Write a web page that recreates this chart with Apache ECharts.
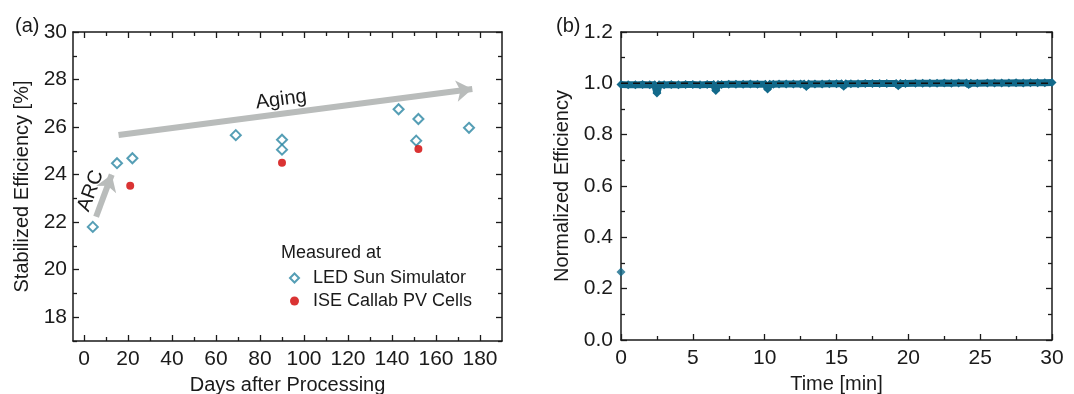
<!DOCTYPE html>
<html>
<head>
<meta charset="utf-8">
<script src="https://cdn.jsdelivr.net/npm/echarts@6/dist/echarts.min.js"></script>
<style>
  html, body { margin: 0; padding: 0; background: #fff; }
  #chart { width: 1074px; height: 394px; }
</style>
</head>
<body>
<div id="chart"></div>
<script>
// (a) stabilized efficiency vs days after processing
const ledDays = [4, 15, 22, 69, 90, 90, 143, 152, 151, 175];
const ledEff = [21.8, 24.48, 24.69, 25.66, 25.47, 25.05, 26.75, 26.34, 25.43, 25.97];
const iseDays = [21, 90, 152];
const iseEff = [23.53, 24.5, 25.08];
const daysTicks = [0, 20, 40, 60, 80, 100, 120, 140, 160, 180];
const daysMinor = [10, 30, 50, 70, 90, 110, 130, 150, 170];
const effTicks = [18, 20, 22, 24, 26, 28, 30];
const effMinor = [17, 19, 21, 23, 25, 27, 29];
// arrows: [start, end] in data units
const arcArrow = [[5.5, 22.23], [12.6, 24.0]];
const agingArrow = [[15.7, 25.67], [176.5, 27.6]];

// (b) normalized efficiency vs time
const firstTime = 0;
const firstValue = 0.265;
const timeMin = [0, 0.5, 1.0, 1.5, 2.0, 2.35, 2.5, 2.65, 3.0, 3.5, 4.0, 4.5, 5.0, 5.5, 6.0, 6.45, 6.6, 6.75, 7.0,
  7.5, 8.0, 8.5, 9.0, 9.5, 10.05, 10.2, 10.35, 10.6, 11.0, 11.5, 12.0, 12.5, 12.75, 12.9, 13.05, 13.5, 14.0,
  14.5, 15.0, 15.35, 15.5, 15.65, 16.0, 16.5, 17.0, 17.5, 18.0, 18.5, 19.15, 19.3, 19.45, 19.8, 20.5, 21.0,
  21.5, 22.0, 22.5, 23.0, 23.5, 24.05, 24.2, 24.35, 24.8, 25.5, 26.0, 26.5, 27.0, 27.5, 28.0, 28.5, 29.0,
  29.5, 30.0];
const normEff = [0.995, 0.994, 0.994, 0.995, 0.994, 0.994, 0.962, 0.994, 0.994, 0.995, 0.994, 0.995, 0.995,
  0.994, 0.995, 0.995, 0.972, 0.995, 0.995, 0.996, 0.996, 0.996, 0.997, 0.996, 0.996, 0.978, 0.996, 0.996,
  0.997, 0.997, 0.997, 0.997, 0.997, 0.988, 0.997, 0.997, 0.997, 0.998, 0.998, 0.998, 0.989, 0.998, 0.998,
  0.998, 0.999, 0.999, 0.999, 0.999, 0.999, 0.991, 0.999, 0.999, 1.0, 1.0, 1.0, 1.0, 1.001, 1.0, 1.001,
  1.001, 0.995, 1.0, 1.0, 1.001, 1.001, 1.001, 1.001, 1.002, 1.001, 1.002, 1.002, 1.002, 1.003];
const refLevel = 1.0;

const FONT = 'Liberation Sans, Arial, sans-serif';
const INK = '#1a1a1a';
const TEAL = '#2b86a3';
const BAND = '#12698a';
const ARROW = '#b9bcbb';
const TICK_FS = 21;
const NAME_FS = 20;

const chart = echarts.init(document.getElementById('chart'));

// frame axis: line + inward ticks at custom values, no labels
function frameAxis(grid, pos, min, max, ticks, len, showLine) {
  return {
    type: 'value', gridIndex: grid, position: pos, min: min, max: max,
    axisLine: { show: showLine, onZero: false, lineStyle: { color: INK, width: 1.5 } },
    axisTick: { show: true, inside: true, length: len, customValues: ticks, lineStyle: { color: INK, width: 1.3 } },
    axisLabel: { show: false },
    splitLine: { show: false }
  };
}

const option = {
  animation: false,
  textStyle: { fontFamily: FONT },
  title: [
    { text: '(a)', left: 10, top: 11, textStyle: { fontSize: 20, fontWeight: 'normal', color: INK, fontFamily: FONT } },
    { text: '(b)', left: 551, top: 11, textStyle: { fontSize: 20, fontWeight: 'normal', color: INK, fontFamily: FONT } },
    { text: 'Measured at', left: 276, top: 239, textStyle: { fontSize: 18, fontWeight: 'normal', color: INK, fontFamily: FONT } }
  ],
  legend: {
    orient: 'vertical', left: 284, top: 264, itemGap: 5,
    itemWidth: 9, itemHeight: 9,
    formatter: name => '\u2002' + name,
    textStyle: { fontSize: 18, color: INK, fontFamily: FONT },
    data: [
      { name: 'LED Sun Simulator', icon: 'emptyDiamond' },
      { name: 'ISE Callab PV Cells', icon: 'circle' }
    ]
  },
  grid: [
    { left: 73, top: 32, width: 429, height: 309, outerBoundsMode: 'none' },
    { left: 621, top: 32, width: 431, height: 308, outerBoundsMode: 'none' }
  ],
  xAxis: [
    {
      type: 'value', gridIndex: 0, position: 'bottom', min: -5, max: 190,
      name: 'Days after Processing', nameLocation: 'middle', nameGap: 34,
      nameTextStyle: { fontSize: NAME_FS, color: INK, fontFamily: FONT },
      axisLine: { onZero: false, lineStyle: { color: INK, width: 1.5 } },
      axisTick: { inside: true, length: 6, customValues: daysTicks, lineStyle: { color: INK, width: 1.3 } },
      axisLabel: { customValues: daysTicks, fontSize: TICK_FS, color: INK, margin: 8, fontFamily: FONT },
      splitLine: { show: false }
    },
    frameAxis(0, 'bottom', -5, 190, daysMinor, 4, false),
    frameAxis(0, 'top', -5, 190, daysTicks, 6, true),
    frameAxis(0, 'top', -5, 190, daysMinor, 4, false),
    {
      type: 'value', gridIndex: 1, position: 'bottom', min: 0, max: 30, interval: 5,
      name: 'Time [min]', nameLocation: 'middle', nameGap: 34,
      nameTextStyle: { fontSize: NAME_FS, color: INK, fontFamily: FONT },
      axisLine: { onZero: false, lineStyle: { color: INK, width: 1.5 } },
      axisTick: { inside: true, length: 6, lineStyle: { color: INK, width: 1.3 } },
      minorTick: { show: true, splitNumber: 2, length: 4, lineStyle: { color: INK, width: 1.3 } },
      axisLabel: { fontSize: TICK_FS, color: INK, margin: 8, fontFamily: FONT },
      splitLine: { show: false }
    },
    {
      type: 'value', gridIndex: 1, position: 'top', min: 0, max: 30, interval: 5,
      axisLine: { onZero: false, lineStyle: { color: INK, width: 1.5 } },
      axisTick: { inside: true, length: 6, lineStyle: { color: INK, width: 1.3 } },
      minorTick: { show: true, splitNumber: 2, length: 4, lineStyle: { color: INK, width: 1.3 } },
      axisLabel: { show: false },
      splitLine: { show: false }
    }
  ],
  yAxis: [
    {
      type: 'value', gridIndex: 0, position: 'left', min: 17, max: 30,
      name: 'Stabilized Efficiency [%]', nameLocation: 'middle', nameGap: 41,
      nameTextStyle: { fontSize: NAME_FS, color: INK, fontFamily: FONT },
      axisLine: { show: true, onZero: false, lineStyle: { color: INK, width: 1.5 } },
      axisTick: { show: true, inside: true, length: 6, customValues: effTicks, lineStyle: { color: INK, width: 1.3 } },
      axisLabel: { customValues: effTicks, fontSize: TICK_FS, color: INK, margin: 6, fontFamily: FONT },
      splitLine: { show: false }
    },
    frameAxis(0, 'left', 17, 30, effMinor, 4, false),
    frameAxis(0, 'right', 17, 30, effTicks, 6, true),
    frameAxis(0, 'right', 17, 30, effMinor, 4, false),
    {
      type: 'value', gridIndex: 1, position: 'left', min: 0, max: 1.2, interval: 0.2,
      name: 'Normalized Efficiency', nameLocation: 'middle', nameGap: 49,
      nameTextStyle: { fontSize: NAME_FS, color: INK, fontFamily: FONT },
      axisLine: { show: true, onZero: false, lineStyle: { color: INK, width: 1.5 } },
      axisTick: { show: true, inside: true, length: 6, lineStyle: { color: INK, width: 1.3 } },
      minorTick: { show: true, splitNumber: 2, length: 4, lineStyle: { color: INK, width: 1.3 } },
      axisLabel: { fontSize: TICK_FS, color: INK, margin: 8, fontFamily: FONT, formatter: v => v.toFixed(1) },
      splitLine: { show: false }
    },
    {
      type: 'value', gridIndex: 1, position: 'right', min: 0, max: 1.2, interval: 0.2,
      axisLine: { show: true, onZero: false, lineStyle: { color: INK, width: 1.5 } },
      axisTick: { show: true, inside: true, length: 6, lineStyle: { color: INK, width: 1.3 } },
      minorTick: { show: true, splitNumber: 2, length: 4, lineStyle: { color: INK, width: 1.3 } },
      axisLabel: { show: false },
      splitLine: { show: false }
    }
  ],
  series: [
    {
      name: 'LED Sun Simulator', type: 'scatter', xAxisIndex: 0, yAxisIndex: 0,
      symbol: 'emptyDiamond', symbolSize: 10,
      itemStyle: { color: TEAL, borderWidth: 1.6 },
      data: ledDays.map((d, i) => [d, ledEff[i]]),
      z: 5,
      markLine: {
        silent: true, symbol: ['none', 'arrow'], symbolSize: 16,
        lineStyle: { color: ARROW, width: 6, type: 'solid' },
        itemStyle: { color: ARROW },
        label: { show: true, position: 'insideMiddleTop', distance: 4, fontSize: NAME_FS, color: INK, fontFamily: FONT },
        data: [
          [{ coord: arcArrow[0], name: 'ARC', label: { formatter: 'ARC' } }, { coord: arcArrow[1] }],
          [{ coord: agingArrow[0], name: 'Aging', label: { formatter: 'Aging', offset: [-13, 0] } }, { coord: agingArrow[1] }]
        ]
      }
    },
    {
      name: 'ISE Callab PV Cells', type: 'scatter', xAxisIndex: 0, yAxisIndex: 0,
      symbol: 'circle', symbolSize: 8,
      itemStyle: { color: '#d10000' },
      data: iseDays.map((d, i) => [d, iseEff[i]]),
      z: 5
    },
    {
      name: 'Normalized', type: 'line', xAxisIndex: 4, yAxisIndex: 4,
      symbol: 'diamond', symbolSize: 9, showSymbol: true,
      lineStyle: { color: BAND, width: 7 },
      itemStyle: { color: BAND },
      data: timeMin.map((t, i) => [t, normEff[i]]),
      z: 3
    },
    {
      name: 'First', type: 'scatter', xAxisIndex: 4, yAxisIndex: 4,
      symbol: 'diamond', symbolSize: 9,
      itemStyle: { color: BAND },
      data: [[firstTime, firstValue]],
      z: 3
    },
    {
      name: 'Reference', type: 'line', xAxisIndex: 4, yAxisIndex: 4,
      symbol: 'none',
      lineStyle: { color: '#111', width: 1.5, type: [7, 5] },
      data: [[0, refLevel], [30, refLevel]],
      z: 6
    }
  ]
};

chart.setOption(option);
</script>
</body>
</html>
